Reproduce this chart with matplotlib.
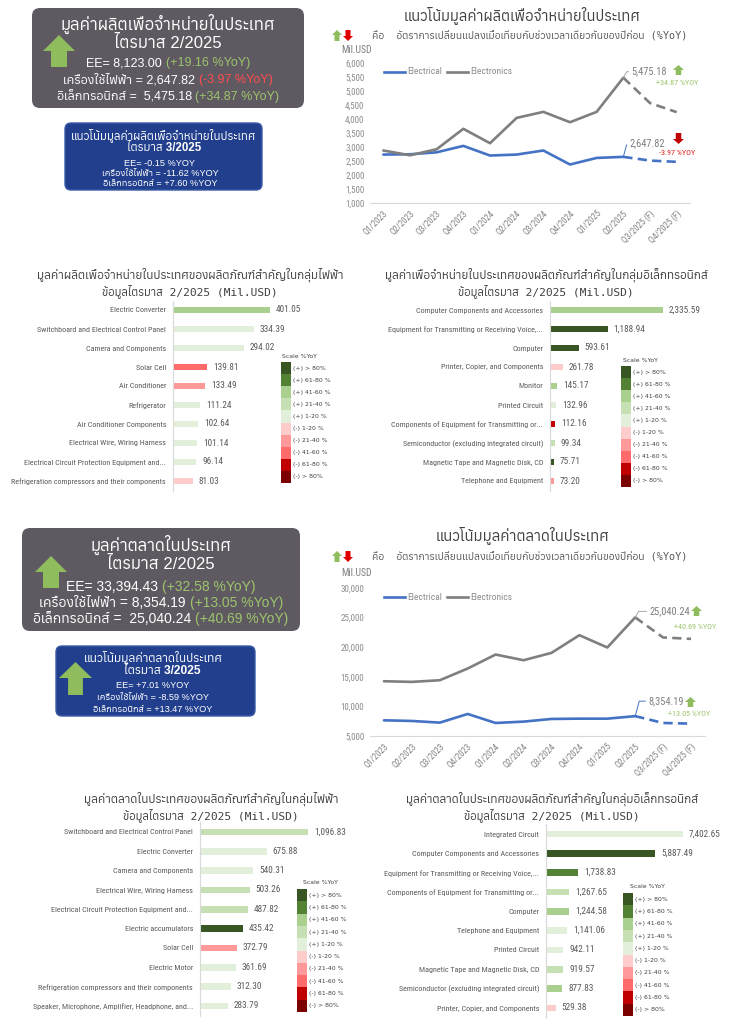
import matplotlib
matplotlib.use("Agg")
import matplotlib.pyplot as plt
import matplotlib.font_manager as fm
from matplotlib.font_manager import FontProperties
from matplotlib.ft2font import FT2Font
from matplotlib.patches import FancyBboxPatch, Polygon, Rectangle

# ---------------- data ----------------
quarters = ['Q1/2023', 'Q2/2023', 'Q3/2023', 'Q4/2023', 'Q1/2024', 'Q2/2024',
            'Q3/2024', 'Q4/2024', 'Q1/2025', 'Q2/2025', 'Q3/2025 (F)', 'Q4/2025 (F)']
prod_electrical = [2730, 2740, 2810, 3040, 2695, 2730, 2875, 2375, 2610, 2647.82, 2515, 2470]
prod_electronics = [2875, 2705, 2920, 3650, 3135, 4040, 4255, 3885, 4255, 5475.18, 4570, 4245]
mkt_electrical = [7650, 7540, 7260, 8720, 7200, 7430, 7880, 7930, 7930, 8354.19, 7200, 7090]
mkt_electronics = [14250, 14140, 14420, 16400, 18760, 17800, 19040, 22030, 19950, 25040.24, 21640, 21410]

scale_labels = ['(+) > 80%', '(+) 61-80 %', '(+) 41-60 %', '(+) 21-40 %', '(+) 1-20 %',
                '(-) 1-20 %', '(-) 21-40 %', '(-) 41-60 %', '(-) 61-80 %', '(-) > 80%']
scale_colors = ['#375623', '#548235', '#a9d08e', '#c6e0b4', '#e2efda',
                '#ffcccc', '#ff9999', '#ff6b6b', '#c00000', '#7b0000']

prod_elec_cats = ['Electric Converter', 'Switchboard and Electrical Control Panel', 'Camera and Components',
                  'Solar Cell', 'Air Conditioner', 'Refrigerator', 'Air Conditioner Components',
                  'Electrical Wire, Wiring Harness', 'Electrical Circuit Protection Equipment and...',
                  'Refrigeration compressors and their components']
prod_elec_vals = [401.05, 334.39, 294.02, 139.81, 133.49, 111.24, 102.64, 101.14, 96.14, 81.03]
prod_elec_cls = [2, 4, 4, 7, 6, 4, 4, 4, 4, 5]

prod_tron_cats = ['Computer Components and Accessories', 'Equipment for Transmitting or Receiving Voice,...',
                  'Computer', 'Printer, Copier, and Components', 'Monitor', 'Printed Circuit',
                  'Components of Equipment for Transmitting or...', 'Semiconductor (excluding integrated circuit)',
                  'Magnetic Tape and Magnetic Disk, CD', 'Telephone and Equipment']
prod_tron_vals = [2335.59, 1188.94, 593.61, 261.78, 145.17, 132.96, 112.16, 99.34, 75.71, 73.20]
prod_tron_cls = [2, 0, 0, 5, 2, 4, 8, 3, 0, 6]

mkt_elec_cats = ['Switchboard and Electrical Control Panel', 'Electric Converter', 'Camera and Components',
                 'Electrical Wire, Wiring Harness', 'Electrical Circuit Protection Equipment and...',
                 'Electric accumulators', 'Solar Cell', 'Electric Motor',
                 'Refrigeration compressors and their components',
                 'Speaker, Microphone, Amplifier, Headphone, and...']
mkt_elec_vals = [1096.83, 675.88, 540.31, 503.26, 487.82, 435.42, 372.79, 361.69, 312.30, 283.79]
mkt_elec_cls = [3, 4, 4, 3, 3, 0, 6, 4, 4, 4]

mkt_tron_cats = ['Integrated Circuit', 'Computer Components and Accessories',
                 'Equipment for Transmitting or Receiving Voice,...',
                 'Components of Equipment for Transmitting or...', 'Computer', 'Telephone and Equipment',
                 'Printed Circuit', 'Magnetic Tape and Magnetic Disk, CD',
                 'Semiconductor (excluding integrated circuit)', 'Printer, Copier, and Components']
mkt_tron_vals = [7402.65, 5887.49, 1738.83, 1267.65, 1244.58, 1141.06, 942.11, 919.57, 877.83, 529.38]
mkt_tron_cls = [4, 0, 1, 3, 2, 4, 4, 3, 2, 5]

# ---------------- fonts ----------------
thai_font = None
entries = sorted({(f.name, f.fname) for f in fm.fontManager.ttflist})
for name, path in entries:
    try:
        cm = FT2Font(path).get_charmap()
        if 0x0E01 in cm and 0x0E48 in cm:
            thai_font = name
            break
    except Exception:
        pass

narrow_path = None
for key in ['liberationsansnarrow-regular', 'robotocondensed-regular', 'dejavusanscondensed.',
            'opensanscondensed', 'notosans-condensed.', 'condensed', 'narrow']:
    for name, path in entries:
        p = path.lower().replace(' ', '').replace('_', '')
        if key in p and 'bold' not in p and 'italic' not in p and 'oblique' not in p:
            narrow_path = path
            break
    if narrow_path:
        break

NSCALE = 1.0 if narrow_path else 0.9

def nfp(size):
    if narrow_path:
        return FontProperties(fname=narrow_path, size=size)
    return FontProperties(family='Liberation Sans', size=size * NSCALE)

def fam(latin='Liberation Sans'):
    l = [latin]
    if thai_font:
        l.append(thai_font)
    l.append('DejaVu Sans')
    return l

MONO_THAI = ['DejaVu Sans Mono'] + ([thai_font] if thai_font else [])

W, H = 732, 1024
fig = plt.figure(figsize=(W / 100, H / 100), dpi=100)
ov = fig.add_axes([0, 0, 1, 1], zorder=0)
ov.set_xlim(0, W)
ov.set_ylim(H, 0)
ov.axis('off')
R = fig.canvas.get_renderer()

def rect(x0, y0, x1, y1):
    return [x0 / W, 1 - y1 / H, (x1 - x0) / W, (y1 - y0) / H]

def T(x, y, s, size=7, color='#404040', ha='center', va='center', family=None, weight='normal', fp=None):
    if fp is not None:
        return ov.text(x, y, s, color=color, ha=ha, va=va, fontproperties=fp)
    return ov.text(x, y, s, fontsize=size, color=color, ha=ha, va=va,
                   family=family or fam(), fontweight=weight)

def ctext(xc, y, parts, size, family=None, weight='normal'):
    ts, ws = [], []
    for s, c in parts:
        t = ov.text(0, y, s, fontsize=size, color=c, ha='left', va='center',
                    family=family or fam(), fontweight=weight)
        ws.append(t.get_window_extent(R).width)
        ts.append(t)
    x = xc - sum(ws) / 2
    for t, w in zip(ts, ws):
        t.set_x(x)
        x += w

def rbox(x0, y0, x1, y1, fc, ec='none', r=8):
    ov.add_patch(FancyBboxPatch((x0, y0), x1 - x0, y1 - y0,
                                boxstyle=f"round,pad=0,rounding_size={r}",
                                fc=fc, ec=ec, lw=1))

def up_arrow(x0, x1, ytip, yhead, ybot, color='#8fbc5c', shaft=0.5):
    cx = (x0 + x1) / 2
    sw = (x1 - x0) * shaft / 2
    pts = [(cx, ytip), (x1, yhead), (cx + sw, yhead), (cx + sw, ybot),
           (cx - sw, ybot), (cx - sw, yhead), (x0, yhead)]
    ov.add_patch(Polygon(pts, closed=True, fc=color, ec='none'))

def down_arrow(x0, x1, ytip, yhead, ytop, color='#c00000', shaft=0.5):
    cx = (x0 + x1) / 2
    sw = (x1 - x0) * shaft / 2
    pts = [(cx, ytip), (x1, yhead), (cx + sw, yhead), (cx + sw, ytop),
           (cx - sw, ytop), (cx - sw, yhead), (x0, yhead)]
    ov.add_patch(Polygon(pts, closed=True, fc=color, ec='none'))

GREEN_T = '#9cc46c'
RED_T = '#ff4d4d'
GREY_BOX = '#5f5a61'
BLUE_BOX = '#213f8c'

# ---------------- summary boxes (top) ----------------
rbox(32, 8, 304, 108, GREY_BOX)
up_arrow(43, 75, 35, 51, 67)
T(168, 24, 'มูลค่าผลิตเพื่อจำหน่ายในประเทศ', size=12, color='white')
T(168, 43, 'ไตรมาส 2/2025', size=12, color='white')
ctext(168, 63, [('EE= 8,123.00 ', 'white'), ('(+19.16 %YoY)', GREEN_T)], 9)
ctext(168, 80, [('เครื่องใช้ไฟฟ้า = 2,647.82 ', 'white'), ('(-3.97 %YoY)', RED_T)], 9)
ctext(168, 97, [('อิเล็กทรอนิกส์ =  5,475.18 ', 'white'), ('(+34.87 %YoY)', GREEN_T)], 9)

rbox(65, 123, 262, 190, BLUE_BOX, ec='#3a5aa8', r=6)
T(164, 135, 'แนวโน้มมูลค่าผลิตเพื่อจำหน่ายในประเทศ', size=8.3, color='white', weight='bold')
T(164, 148, 'ไตรมาส 3/2025', size=8.3, color='white', weight='bold')
T(160, 163, 'EE= -0.15 %YOY', size=6.6, color='white')
T(160, 173, 'เครื่องใช้ไฟฟ้า = -11.62 %YOY', size=6.6, color='white')
T(160, 184, 'อิเล็กทรอนิกส์ = +7.60 %YOY', size=6.6, color='white')

# ---------------- summary boxes (bottom) ----------------
rbox(22, 528, 300, 631, GREY_BOX)
up_arrow(35, 67, 556, 572, 588)
T(161, 545, 'มูลค่าตลาดในประเทศ', size=12, color='white')
T(161, 564, 'ไตรมาส 2/2025', size=12, color='white')
ctext(161, 587, [('EE= 33,394.43 ', 'white'), ('(+32.58 %YoY)', GREEN_T)], 10)
ctext(161, 603, [('เครื่องใช้ไฟฟ้า = 8,354.19 ', 'white'), ('(+13.05 %YoY)', GREEN_T)], 10)
ctext(161, 619, [('อิเล็กทรอนิกส์ =  25,040.24 ', 'white'), ('(+40.69 %YoY)', GREEN_T)], 10)

rbox(56, 646, 255, 716, BLUE_BOX, ec='#3a5aa8', r=6)
up_arrow(59, 92, 662, 678, 695, shaft=0.45)
T(153, 657, 'แนวโน้มมูลค่าตลาดในประเทศ', size=8.6, color='white', weight='bold')
T(162, 671, 'ไตรมาส 3/2025', size=8.6, color='white', weight='bold')
T(153, 685, 'EE= +7.01 %YOY', size=6.6, color='white')
T(153, 697, 'เครื่องใช้ไฟฟ้า = -8.59 %YOY', size=6.6, color='white')
T(153, 709, 'อิเล็กทรอนิกส์ = +13.47 %YOY', size=6.6, color='white')

# ---------------- line charts ----------------
BLUE = '#4472c4'
GREY = '#7f7f7f'

def line_chart(x_right, top, bottom, ylo, yhi, step, elec, tron, title, tsize, ty, sub_y, mil_y, arrows_y,
               tron_lbl, elec_lbl, tron_off, elec_off, legend_y):
    ax = fig.add_axes(rect(370, top, x_right, bottom))
    x = list(range(len(quarters)))
    ax.plot(x[:10], elec[:10], color=BLUE, lw=1.9, solid_capstyle='round')
    ax.plot(x[9:], elec[9:], color=BLUE, lw=1.9, ls=(0, (3.5, 2)))
    ax.plot(x[:10], tron[:10], color=GREY, lw=1.9, solid_capstyle='round')
    ax.plot(x[9:], tron[9:], color=GREY, lw=1.9, ls=(0, (3.5, 2)))
    ax.set_xlim(-0.5, 11.5)
    ax.set_ylim(ylo, yhi)
    ticks = list(range(ylo, yhi + 1, step))
    ax.set_yticks(ticks)
    ax.set_yticklabels([f'{v:,}' for v in ticks], fontproperties=nfp(6.5), color='#8c8c8c')
    ax.set_xticks(x)
    ax.set_xticklabels(quarters, rotation=45, ha='right', rotation_mode='anchor',
                       fontproperties=nfp(6.2), color='#7f7f7f')
    ax.tick_params(length=0, pad=4)
    for s in ['top', 'right', 'left']:
        ax.spines[s].set_visible(False)
    ax.spines['bottom'].set_color('#d9d9d9')
    ax.patch.set_alpha(0)
    ax.annotate(tron_lbl, xy=(9, tron[9]), xytext=tron_off, textcoords='offset pixels',
                fontproperties=nfp(7.5), color='#7f7f7f', va='center', ha='left',
                arrowprops=dict(arrowstyle='-', color='#a6a6a6', lw=0.7, shrinkA=0, shrinkB=0,
                                connectionstyle='angle,angleA=0,angleB=60', relpos=(0, 0.5)))
    ax.annotate(elec_lbl, xy=(9, elec[9]), xytext=elec_off, textcoords='offset pixels',
                fontproperties=nfp(7.5), color='#7f7f7f', va='center', ha='left',
                arrowprops=dict(arrowstyle='-', color=BLUE, lw=0.7, shrinkA=0, shrinkB=0,
                                connectionstyle='angle,angleA=0,angleB=75', relpos=(0, 0.5)))
    T(522, ty, title, size=tsize, color='#404040')
    T(530, sub_y, 'คือ  อัตราการเปลี่ยนแปลงเมื่อเทียบกับช่วงเวลาเดียวกันของปีก่อน (%YoY)',
      size=7.4, color='#595959', family=MONO_THAI)
    T(357, mil_y, 'Mil.USD', fp=nfp(7), color='#7f7f7f')
    up_arrow(332, 342, arrows_y - 6, arrows_y - 1, arrows_y + 5, color='#8fbc5c')
    down_arrow(343, 353, arrows_y + 5, arrows_y, arrows_y - 6, color='#e00000')
    ov.plot([384, 405], [legend_y, legend_y], color=BLUE, lw=1.9)
    T(407, legend_y, 'Electrical', fp=nfp(6.8), color='#8c8c8c', ha='left')
    ov.plot([447, 468], [legend_y, legend_y], color=GREY, lw=1.9)
    T(470, legend_y, 'Electronics', fp=nfp(6.8), color='#8c8c8c', ha='left')
    return ax

ax1 = line_chart(690, 63, 203, 1000, 6000, 500, prod_electrical, prod_electronics,
                 'แนวโน้มมูลค่าผลิตเพื่อจำหน่ายในประเทศ', 10.6, 15, 36, 50, 36,
                 '5,475.18', '2,647.82', (8, 6), (6, 14), 72)
up_arrow(673, 684, 65, 70, 75)
T(677, 83, '+34.87 %YOY', fp=nfp(5.8), color=GREEN_T)
down_arrow(673, 684, 144, 139, 133, color='#c00000')
T(677, 153, '-3.97 %YOY', fp=nfp(5.8), color='#e02020')

ax2 = line_chart(705, 588, 736, 5000, 30000, 5000, mkt_electrical, mkt_electronics,
                 'แนวโน้มมูลค่าตลาดในประเทศ', 10.7, 535, 557, 573, 557,
                 '25,040.24', '8,354.19', (14, 6), (13, 15), 597)
up_arrow(691, 702, 606, 611, 616)
T(695, 627, '+40.69 %YOY', fp=nfp(5.8), color=GREEN_T)
up_arrow(685, 696, 697, 702, 707)
T(689, 714, '+13.05 %YOY', fp=nfp(5.8), color=GREEN_T)

# ---------------- bar charts ----------------
def bar_chart(axis_x, right_x, bar_end_x, y_first, y_last, cats, vals, cls,
              t1, t2, tcx, t1y, t2y, leg_x, leg_top, leg_bot, leg_lbl_y, leg_cx, tsize):
    sp = (y_last - y_first) / 9
    ax = fig.add_axes(rect(axis_x, y_first - sp / 2, right_x, y_last + sp / 2))
    vmax = max(vals)
    xmax = vmax * (right_x - axis_x) / (bar_end_x - axis_x)
    ys = list(range(len(cats)))
    ax.barh(ys, vals, height=0.36, color=[scale_colors[c] for c in cls])
    for y, v in zip(ys, vals):
        ax.annotate(f'{v:,.2f}', xy=(v, y), xytext=(6, 0), textcoords='offset pixels',
                    va='center', ha='left', fontproperties=nfp(6.7), color='#595959')
    ax.set_xlim(0, xmax)
    ax.set_ylim(len(cats) - 0.5, -0.5)
    ax.set_yticks(ys)
    ax.set_yticklabels(cats, fontproperties=nfp(5.8), color='#595959')
    ax.set_xticks([])
    ax.tick_params(length=0, pad=5)
    for s in ['top', 'right', 'bottom']:
        ax.spines[s].set_visible(False)
    ax.spines['left'].set_color('#d9d9d9')
    ax.patch.set_alpha(0)
    T(tcx, t1y, t1, size=tsize, color='#404040')
    T(tcx, t2y, t2, size=8.1, color='#404040', family=MONO_THAI)
    h = (leg_bot - leg_top) / len(scale_colors)
    for i, (c, l) in enumerate(zip(scale_colors, scale_labels)):
        ov.add_patch(Rectangle((leg_x, leg_top + i * h), 10, h, fc=c, ec='none'))
        T(leg_x + 12, leg_top + i * h + h / 2, l, size=4.4, color='#404040', ha='left',
          family='DejaVu Sans')
    T(leg_cx, leg_lbl_y, 'Scale %YoY', size=4.4, color='#404040', family='DejaVu Sans')
    return ax

bar_chart(173, 360, 270, 310, 481, prod_elec_cats, prod_elec_vals, prod_elec_cls,
          'มูลค่าผลิตเพื่อจำหน่ายในประเทศของผลิตภัณฑ์สำคัญในกลุ่มไฟฟ้า',
          'ข้อมูลไตรมาส 2/2025 (Mil.USD)', 190, 275, 291, 281, 362, 483, 356, 299, 8.5)
bar_chart(550, 720, 663, 310, 481, prod_tron_cats, prod_tron_vals, prod_tron_cls,
          'มูลค่าเพื่อจำหน่ายในประเทศของผลิตภัณฑ์สำคัญในกลุ่มอิเล็กทรอนิกส์',
          'ข้อมูลไตรมาส 2/2025 (Mil.USD)', 546, 275, 291, 621, 366, 487, 360, 640, 8.45)
bar_chart(200, 360, 308, 832, 1006, mkt_elec_cats, mkt_elec_vals, mkt_elec_cls,
          'มูลค่าตลาดในประเทศของผลิตภัณฑ์สำคัญในกลุ่มไฟฟ้า',
          'ข้อมูลไตรมาส 2/2025 (Mil.USD)', 211, 799, 815, 297, 889, 1012, 883, 320, 8.5)
bar_chart(546, 720, 683, 834, 1008, mkt_tron_cats, mkt_tron_vals, mkt_tron_cls,
          'มูลค่าตลาดในประเทศของผลิตภัณฑ์สำคัญในกลุ่มอิเล็กทรอนิกส์',
          'ข้อมูลไตรมาส 2/2025 (Mil.USD)', 552, 799, 815, 623, 893, 1016, 887, 647, 8.45)

fig.savefig('out.png', dpi=100)
